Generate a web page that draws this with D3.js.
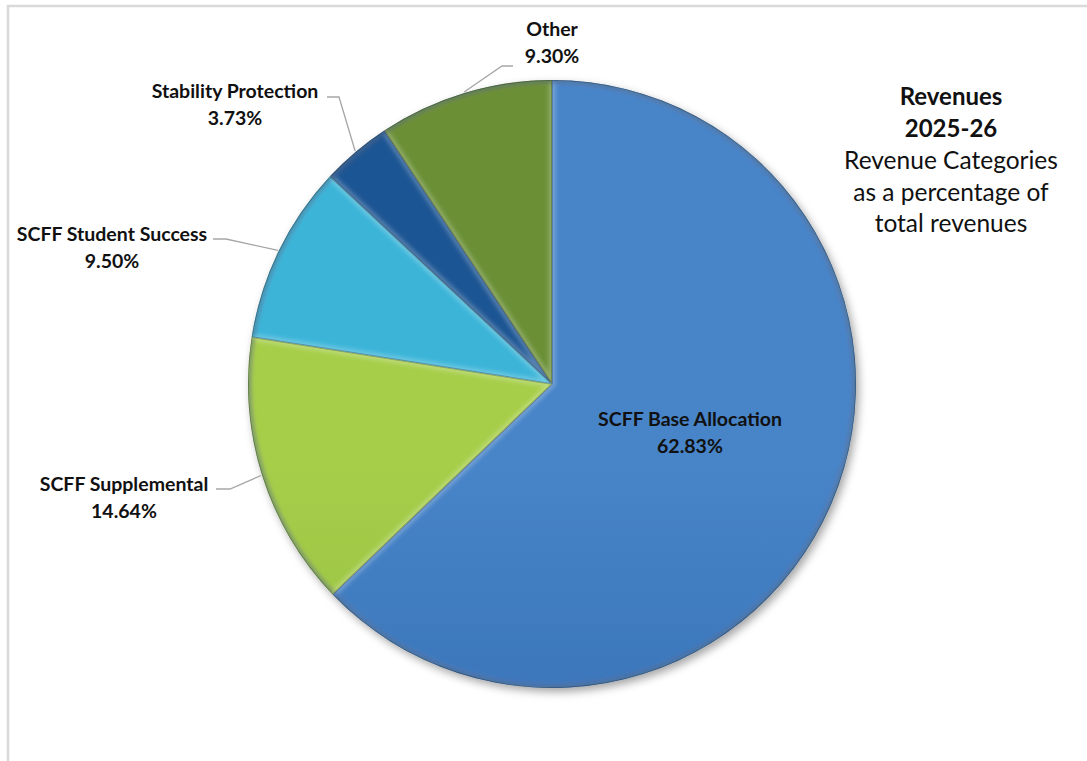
<!DOCTYPE html>
<html>
<head>
<meta charset="utf-8">
<script src="https://cdn.jsdelivr.net/npm/d3@7"></script>
<style>
  html, body { margin: 0; padding: 0; background: #ffffff; }
  svg { display: block; }
  text { font-family: Lato, "Open Sans", sans-serif; fill: #111; }
</style>
</head>
<body>
<svg id="chart" width="1087" height="761"></svg>
<script>
// ---- data ----
const categories = ["SCFF Base Allocation", "SCFF Supplemental", "SCFF Student Success", "Stability Protection", "Other"];
const values = [62.83, 14.64, 9.50, 3.73, 9.30];
const valueLabels = ["62.83%", "14.64%", "9.50%", "3.73%", "9.30%"];
const titleLines = ["Revenues", "2025-26"];
const subtitleLines = ["Revenue Categories", "as a percentage of", "total revenues"];

// ---- styling / layout ----
const colorsTop = ["#4784c8", "#a6ce4a", "#3ab4d8", "#1f5593", "#6a8f35"];
const colorsBot = ["#285fa5", "#86b033", "#2595bc", "#19457b", "#55762a"];
const W = 1087, H = 761;
const cx = 552, cy = 384, R = 304;

// label layout: text centre x, baseline y of first line, leader horizontal y, text end, elbow x
const labelLayout = [
  { inside: true, x: 690, y: 426 },
  { x: 124, y: 491, lineY: 489, textEnd: 216, elbowX: 230 },
  { x: 112, y: 241, lineY: 239, textEnd: 213, elbowX: 226 },
  { x: 235, y: 98,  lineY: 97,  textEnd: 327, elbowX: 339 },
  { x: 552, y: 36,  lineY: 66,  textEnd: 513, elbowX: 502 }
];

const svg = d3.select("#chart");
const defs = svg.append("defs");

// frame
svg.append("path")
  .attr("d", `M8,${H} L8,6 L${W},6`)
  .attr("fill", "none").attr("stroke", "#d9d9d9").attr("stroke-width", 2.5);

// filters
const shadow = defs.append("filter").attr("id", "shadow")
  .attr("x", "-10%").attr("y", "-10%").attr("width", "125%").attr("height", "125%");
shadow.append("feDropShadow").attr("dx", 3).attr("dy", 4).attr("stdDeviation", 4)
  .attr("flood-color", "#000").attr("flood-opacity", 0.35);

const blur = defs.append("filter").attr("id", "blur")
  .attr("x", "-10%").attr("y", "-10%").attr("width", "120%").attr("height", "120%");
blur.append("feGaussianBlur").attr("stdDeviation", 2);

colorsTop.forEach((c, i) => {
  const g = defs.append("linearGradient").attr("id", "grad" + i)
    .attr("gradientUnits", "userSpaceOnUse")
    .attr("x1", 0).attr("y1", cy - R).attr("x2", 0).attr("y2", cy + R);
  g.append("stop").attr("offset", "0%").attr("stop-color", c);
  g.append("stop").attr("offset", "100%").attr("stop-color", colorsBot[i]);
});

const pie = d3.pie().sort(null).value(d => d)(values);
const arc = d3.arc().innerRadius(0).outerRadius(R);
const rimArc = d3.arc().innerRadius(R).outerRadius(R);

const g = svg.append("g").attr("transform", `translate(${cx},${cy})`);
const shadowG = g.append("g").attr("filter", "url(#shadow)");

pie.forEach((d, i) => {
  defs.append("clipPath").attr("id", "clip" + i)
    .append("path").attr("d", arc(d)).attr("transform", `translate(${cx},${cy})`);
});

shadowG.selectAll("path.slice").data(pie).join("path")
  .attr("class", "slice")
  .attr("d", arc)
  .attr("fill", (d, i) => `url(#grad${i})`);

// bevel highlight and dark rim, clipped to each slice
pie.forEach((d, i) => {
  const bg = svg.append("g").attr("clip-path", `url(#clip${i})`);
  bg.append("path").attr("d", arc(d)).attr("transform", `translate(${cx},${cy})`)
    .attr("fill", "none").attr("stroke", "#ffffff").attr("stroke-opacity", 0.25)
    .attr("stroke-width", 7).attr("filter", "url(#blur)");
  bg.append("path").attr("d", rimArc(d)).attr("transform", `translate(${cx},${cy})`)
    .attr("fill", "none").attr("stroke", "#0b2040").attr("stroke-opacity", 0.38)
    .attr("stroke-width", 6).attr("filter", "url(#blur)");
  bg.append("path").attr("d", arc(d)).attr("transform", `translate(${cx},${cy})`)
    .attr("fill", "none").attr("stroke", "#000").attr("stroke-opacity", 0.25)
    .attr("stroke-width", 1.6);
});

// labels
const lg = svg.append("g");
pie.forEach((d, i) => {
  const L = labelLayout[i];
  const t = lg.append("text")
    .attr("text-anchor", "middle")
    .attr("font-weight", "bold")
    .attr("font-size", 19.5);
  t.append("tspan").attr("x", L.x).attr("y", L.y).text(categories[i]);
  t.append("tspan").attr("x", L.x).attr("y", L.y + 27).text(valueLabels[i]);
  if (!L.inside) {
    const mid = (d.startAngle + d.endAngle) / 2;
    const p = [cx + (R + 1) * Math.sin(mid), cy - (R + 1) * Math.cos(mid)];
    lg.append("polyline")
      .attr("points", [[L.textEnd, L.lineY], [L.elbowX, L.lineY], p].map(q => q.join(",")).join(" "))
      .attr("fill", "none").attr("stroke", "#a6a6a6").attr("stroke-width", 1.3);
  }
});

// title block
const tg = svg.append("text").attr("text-anchor", "middle");
titleLines.forEach((s, i) => {
  tg.append("tspan").attr("x", 951).attr("y", 105 + i * 32)
    .attr("font-weight", "bold").attr("font-size", 24).text(s);
});
subtitleLines.forEach((s, i) => {
  tg.append("tspan").attr("x", 951).attr("y", 169 + i * 31.5)
    .attr("font-size", 24.5).text(s);
});
</script>
</body>
</html>
